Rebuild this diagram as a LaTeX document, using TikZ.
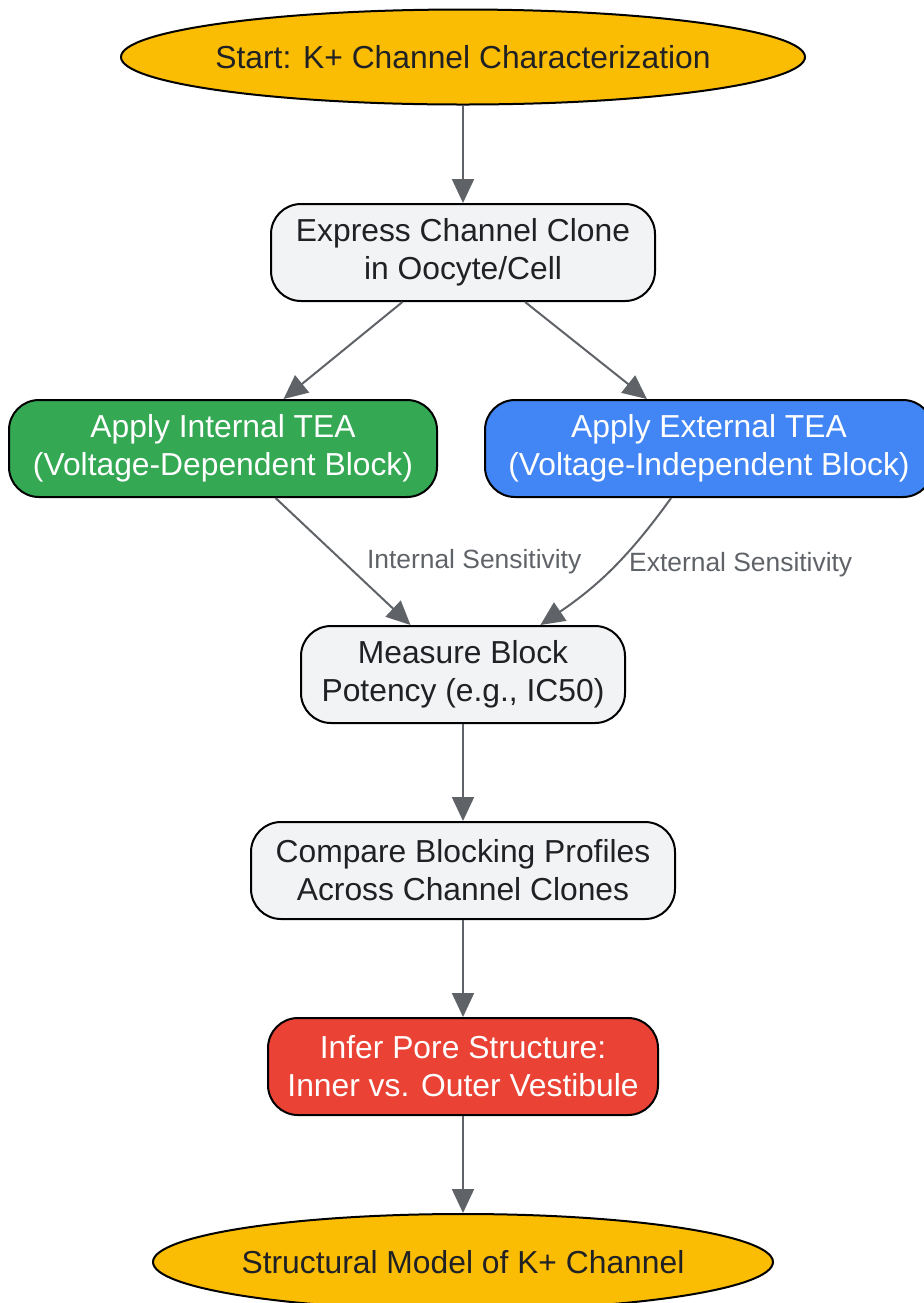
\documentclass[tikz,border=0pt]{standalone}
\usepackage{fontspec}
\setmainfont{Liberation Sans}
\usepackage{xcolor}
\usetikzlibrary{shapes.geometric, arrows.meta}

\definecolor{gelb}{HTML}{FBBC04}
\definecolor{gruen}{HTML}{34A853}
\definecolor{blau}{HTML}{4285F4}
\definecolor{rot}{HTML}{EA4335}
\definecolor{hellgrau}{HTML}{F1F3F4}
\definecolor{dunkel}{HTML}{202124}
\definecolor{pfeilgrau}{HTML}{5F6368}

\begin{document}
\begin{tikzpicture}[x=0.5pt, y=-0.5pt,
	box/.style={draw=black, line width=1pt, rounded corners=15pt, minimum height=48.5pt, inner sep=0pt, align=center, font=\fontsize{15.9}{19}\selectfont},
	oval/.style={ellipse, draw=black, line width=1pt, fill=gelb, text=dunkel, inner sep=0pt, font=\fontsize{15.9}{19}\selectfont},
	pfeil/.style={draw=pfeilgrau, line width=1pt, -{Triangle[length=12pt, width=11pt]}},
	beschr/.style={text=pfeilgrau, inner sep=0pt, font=\fontsize{13.2}{15}\selectfont}]
	\useasboundingbox (0,0) rectangle (924,1303);
	% start
	\node[oval, minimum width=342pt, minimum height=47.5pt] (start) at (463,57) {\makebox[0pt]{Start: K+ Channel Characterization}};
	% klon exprimieren
	\node[box, fill=hellgrau, text=dunkel, minimum width=192pt] (express) at (463,252.5) {Express Channel Clone\\in Oocyte/Cell};
	% TEA innen und aussen
	\node[box, fill=gruen, text=white, minimum width=214pt] (intern) at (223,448.5) {Apply Internal TEA\\(Voltage-Dependent Block)};
	\node[box, fill=blau, text=white, minimum width=224pt] (extern) at (709,448.5) {Apply External TEA\\(Voltage-Independent Block)};
	% messen und vergleichen
	\node[box, fill=hellgrau, text=dunkel, minimum width=162pt] (measure) at (463,674.5) {Measure Block\\Potency (e.g., IC50)};
	\node[box, fill=hellgrau, text=dunkel, minimum width=212pt] (compare) at (463,870.5) {Compare Blocking Profiles\\Across Channel Clones};
	\node[box, fill=rot, text=white, minimum width=195pt] (infer) at (463,1066.5) {Infer Pore Structure:\\Inner vs. Outer Vestibule};
	% ende
	\node[oval, minimum width=310pt, minimum height=48pt] (model) at (463,1262) {\makebox[0pt]{Structural Model of K+ Channel}};
	% pfeile
	\draw[pfeil] (start) -- (express);
	\draw[pfeil] (express) -- (intern);
	\draw[pfeil] (express) -- (extern);
	\draw[pfeil] (intern) -- node[beschr, right=11.5pt] (lblint) {Internal Sensitivity} (measure);
	\draw[pfeil] (extern) to[bend left=10] node[beschr, right=8pt, yshift=1.5pt] (lblext) {External Sensitivity} (measure);
	\draw[pfeil] (measure) -- (compare);
	\draw[pfeil] (compare) -- (infer);
	\draw[pfeil] (infer) -- (model);
\end{tikzpicture}
\end{document}
